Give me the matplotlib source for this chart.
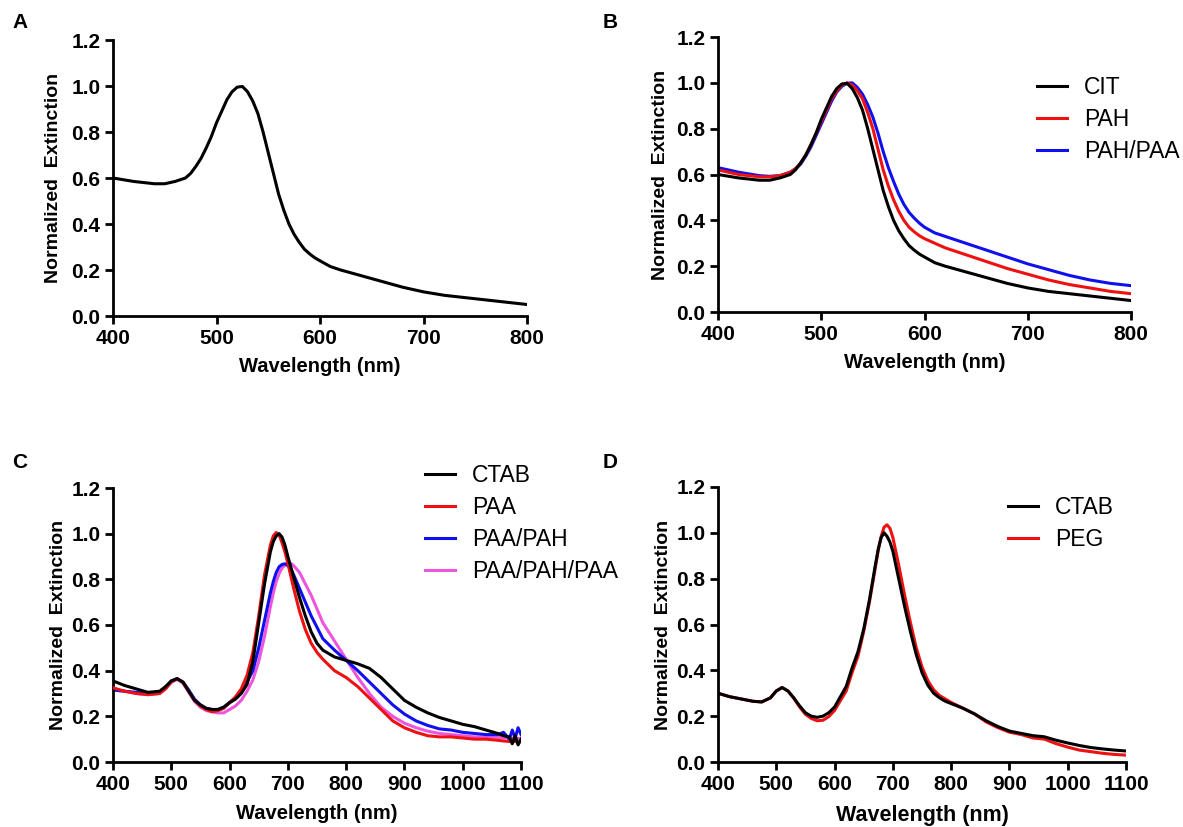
import matplotlib
matplotlib.use('Agg')
import matplotlib.pyplot as plt

plt.rcParams['font.family'] = ['Liberation Sans', 'DejaVu Sans']

# ---- panel A / B : gold nanospheres (400-800 nm)
wl_ab = [400, 420, 440, 450, 460, 470, 475, 480, 485, 490, 495, 500, 505, 510, 515, 520,
         525, 530, 535, 540, 545, 550, 555, 560, 565, 570, 575, 580, 585, 590, 595, 600,
         610, 620, 640, 660, 680, 700, 720, 740, 760, 780, 800]
cit = [0.600, 0.585, 0.575, 0.575, 0.585, 0.600, 0.620, 0.650, 0.685, 0.730, 0.780, 0.840,
       0.890, 0.940, 0.975, 0.995, 0.998, 0.975, 0.935, 0.880, 0.800, 0.710, 0.620, 0.530,
       0.460, 0.400, 0.355, 0.320, 0.290, 0.270, 0.253, 0.240, 0.215, 0.200, 0.175, 0.150,
       0.125, 0.105, 0.090, 0.080, 0.070, 0.060, 0.050]
pah = [0.620, 0.600, 0.590, 0.590, 0.595, 0.610, 0.625, 0.650, 0.685, 0.730, 0.780, 0.830,
       0.880, 0.930, 0.965, 0.990, 1.000, 0.990, 0.965, 0.930, 0.870, 0.800, 0.710, 0.620,
       0.550, 0.490, 0.440, 0.400, 0.370, 0.350, 0.333, 0.320, 0.300, 0.280, 0.250, 0.220,
       0.190, 0.165, 0.140, 0.120, 0.105, 0.090, 0.080]
pah_paa = [0.630, 0.610, 0.595, 0.592, 0.595, 0.610, 0.625, 0.645, 0.680, 0.720, 0.770, 0.820,
           0.870, 0.920, 0.960, 0.985, 0.998, 1.000, 0.980, 0.950, 0.905, 0.850, 0.780, 0.700,
           0.630, 0.570, 0.515, 0.470, 0.435, 0.410, 0.388, 0.370, 0.345, 0.330, 0.300, 0.270,
           0.240, 0.210, 0.185, 0.160, 0.140, 0.125, 0.115]

# ---- panel C : nanorods, layer-by-layer coatings
wl_c = [400, 420, 440, 460, 480, 490, 500, 510, 520, 530, 540, 550, 560, 570, 580, 590,
        600, 610, 620, 630, 640, 650, 660, 670, 675, 680, 685, 690, 695, 700, 705, 710,
        720, 730, 740, 750, 760, 780, 800, 820, 840, 860, 880, 900, 920, 940, 960, 980,
        1000, 1020, 1040, 1060, 1070, 1080, 1085, 1090, 1095, 1100]
ctab_c = [0.355, 0.335, 0.320, 0.305, 0.310, 0.330, 0.355, 0.365, 0.350, 0.310, 0.270,
          0.250, 0.235, 0.230, 0.230, 0.240, 0.260, 0.275, 0.300, 0.340, 0.440, 0.610,
          0.780, 0.920, 0.965, 0.990, 1.000, 0.985, 0.950, 0.900, 0.855, 0.810, 0.720,
          0.640, 0.570, 0.520, 0.490, 0.460, 0.445, 0.430, 0.410, 0.370, 0.320, 0.270,
          0.240, 0.215, 0.195, 0.180, 0.165, 0.155, 0.140, 0.125, 0.115, 0.110, 0.080,
          0.115, 0.075, 0.100]
paa_c = [0.325, 0.310, 0.300, 0.295, 0.300, 0.320, 0.350, 0.365, 0.350, 0.310, 0.270,
         0.245, 0.230, 0.220, 0.225, 0.235, 0.260, 0.285, 0.320, 0.380, 0.480, 0.640,
         0.820, 0.950, 0.990, 1.005, 0.995, 0.960, 0.920, 0.870, 0.815, 0.760, 0.660,
         0.580, 0.520, 0.480, 0.450, 0.400, 0.370, 0.330, 0.280, 0.230, 0.180, 0.150,
         0.130, 0.115, 0.110, 0.110, 0.105, 0.100, 0.100, 0.095, 0.092, 0.090, 0.088,
         0.090, 0.087, 0.090]
paa_pah_c = [0.315, 0.310, 0.305, 0.300, 0.305, 0.325, 0.355, 0.365, 0.350, 0.315, 0.275,
             0.250, 0.235, 0.230, 0.230, 0.240, 0.260, 0.280, 0.310, 0.350, 0.400, 0.500,
             0.620, 0.740, 0.790, 0.830, 0.855, 0.865, 0.868, 0.860, 0.845, 0.820, 0.760,
             0.700, 0.640, 0.590, 0.540, 0.490, 0.445, 0.400, 0.350, 0.300, 0.250, 0.210,
             0.180, 0.160, 0.145, 0.140, 0.130, 0.125, 0.120, 0.120, 0.130, 0.100, 0.140,
             0.105, 0.150, 0.120]
paa_pah_paa_c = [0.320, 0.310, 0.300, 0.295, 0.300, 0.320, 0.350, 0.362, 0.345, 0.305, 0.265,
                 0.240, 0.225, 0.220, 0.215, 0.215, 0.230, 0.245, 0.270, 0.310, 0.360, 0.440,
                 0.550, 0.680, 0.740, 0.790, 0.825, 0.850, 0.862, 0.870, 0.870, 0.860, 0.830,
                 0.780, 0.730, 0.670, 0.610, 0.530, 0.450, 0.370, 0.300, 0.240, 0.200, 0.170,
                 0.150, 0.135, 0.125, 0.120, 0.115, 0.110, 0.110, 0.108, 0.106, 0.105, 0.105,
                 0.104, 0.104, 0.103]

# ---- panel D : nanorods, CTAB vs PEG
wl_d = [400, 420, 440, 460, 475, 490, 500, 510, 520, 530, 540, 550, 560, 570, 580, 590,
        600, 620, 630, 640, 650, 660, 670, 675, 680, 685, 690, 695, 700, 710, 720, 730,
        740, 750, 760, 770, 780, 790, 800, 820, 840, 860, 880, 900, 920, 940, 960, 980,
        1000, 1020, 1040, 1060, 1080, 1100]
ctab_d = [0.300, 0.285, 0.275, 0.265, 0.262, 0.280, 0.310, 0.325, 0.310, 0.280, 0.245,
          0.215, 0.200, 0.195, 0.200, 0.215, 0.240, 0.330, 0.410, 0.480, 0.580, 0.710,
          0.860, 0.930, 0.980, 1.000, 0.985, 0.960, 0.920, 0.800, 0.680, 0.570, 0.470,
          0.390, 0.335, 0.300, 0.280, 0.265, 0.255, 0.235, 0.210, 0.180, 0.155, 0.135,
          0.125, 0.115, 0.110, 0.095, 0.083, 0.072, 0.063, 0.057, 0.052, 0.048]
peg_d = [0.300, 0.285, 0.275, 0.265, 0.262, 0.280, 0.310, 0.325, 0.310, 0.278, 0.240,
         0.208, 0.190, 0.180, 0.182, 0.198, 0.225, 0.310, 0.390, 0.460, 0.570, 0.700,
         0.850, 0.925, 0.985, 1.025, 1.035, 1.020, 0.980, 0.860, 0.730, 0.610, 0.500,
         0.415, 0.355, 0.315, 0.290, 0.275, 0.260, 0.235, 0.210, 0.175, 0.150, 0.130,
         0.120, 0.105, 0.100, 0.080, 0.065, 0.052, 0.045, 0.038, 0.033, 0.030]

y_label = 'Normalized  Extinction'
x_label = 'Wavelength (nm)'


def style_axes(ax, xticks, xlab_size, ylab_x, xlab_y):
    for side in ('top', 'right'):
        ax.spines[side].set_visible(False)
    for side in ('left', 'bottom'):
        ax.spines[side].set_linewidth(2)
    ax.set_ylim(0, 1.2)
    ax.set_yticks([0.0, 0.2, 0.4, 0.6, 0.8, 1.0, 1.2])
    ax.set_yticklabels(['%.1f' % t for t in ax.get_yticks()])
    ax.set_xlim(xticks[0], xticks[-1])
    ax.set_xticks(xticks)
    ax.tick_params(direction='out', length=6, width=2, labelsize=15, pad=3)
    for lab in ax.get_xticklabels() + ax.get_yticklabels():
        lab.set_fontweight('bold')
    ax.set_ylabel(y_label, fontsize=14, fontweight='bold')
    ax.set_xlabel(x_label, fontsize=xlab_size, fontweight='bold')
    ax.yaxis.set_label_coords(ylab_x, 0.5)
    ax.xaxis.set_label_coords(0.5, xlab_y)


fig = plt.figure(figsize=(11.83, 8.27), dpi=100)
W, H = 1183.0, 827.0


def add_axes(l, t, r, b):
    return fig.add_axes([l / W, 1 - b / H, (r - l) / W, (b - t) / H])


axA = add_axes(113, 40, 527, 316)
axB = add_axes(718, 37, 1131, 312)
axC = add_axes(113, 488, 521, 762)
axD = add_axes(718, 487, 1126, 762)

lw = 2.2
axA.plot(wl_ab, cit, color='black', lw=lw)
style_axes(axA, [400, 500, 600, 700, 800], 14.5, -0.123, -0.15)

axB.plot(wl_ab, cit, color='black', lw=lw, label='CIT', zorder=3)
axB.plot(wl_ab, pah, color='#ee1111', lw=lw, label='PAH', zorder=2)
axB.plot(wl_ab, pah_paa, color='#1010ee', lw=lw, label='PAH/PAA', zorder=1)
style_axes(axB, [400, 500, 600, 700, 800], 14.5, -0.119, -0.15)

axC.plot(wl_c, paa_pah_paa_c, color='#ee55dd', lw=lw, label='PAA/PAH/PAA', zorder=1)
axC.plot(wl_c, paa_pah_c, color='#1010ee', lw=lw, label='PAA/PAH', zorder=2)
axC.plot(wl_c, paa_c, color='#ee1111', lw=lw, label='PAA', zorder=3)
axC.plot(wl_c, ctab_c, color='black', lw=lw, label='CTAB', zorder=4)
c_ticks = [400, 500, 600, 700, 800, 900, 1000, 1100]
style_axes(axC, c_ticks, 14.5, -0.113, -0.153)

axD.plot(wl_d, peg_d, color='#ee1111', lw=lw, label='PEG', zorder=1)
axD.plot(wl_d, ctab_d, color='black', lw=lw, label='CTAB', zorder=2)
style_axes(axD, c_ticks, 15.5, -0.113, -0.155)


def add_legend(ax, order, x_px, top_px):
    handles, labels = ax.get_legend_handles_labels()
    pairs = dict(zip(labels, handles))
    ax.legend([pairs[k] for k in order], order, loc='upper left',
              bbox_to_anchor=(x_px / W, 1 - top_px / H), bbox_transform=fig.transFigure,
              frameon=False, fontsize=16.5, handlelength=1.3, handletextpad=0.75,
              labelspacing=0.4, borderpad=0, borderaxespad=0)


add_legend(axB, ['CIT', 'PAH', 'PAH/PAA'], 1037, 76)
add_legend(axC, ['CTAB', 'PAA', 'PAA/PAH', 'PAA/PAH/PAA'], 425, 464)
add_legend(axD, ['CTAB', 'PEG'], 1008, 496)

for letter, xp, yp in [('A', 12, 22), ('B', 603, 22), ('C', 12, 463), ('D', 603, 463)]:
    fig.text(xp / W, 1 - yp / H, letter, fontsize=15, fontweight='bold', va='center', ha='left')

fig.savefig('out.png', dpi=100)
